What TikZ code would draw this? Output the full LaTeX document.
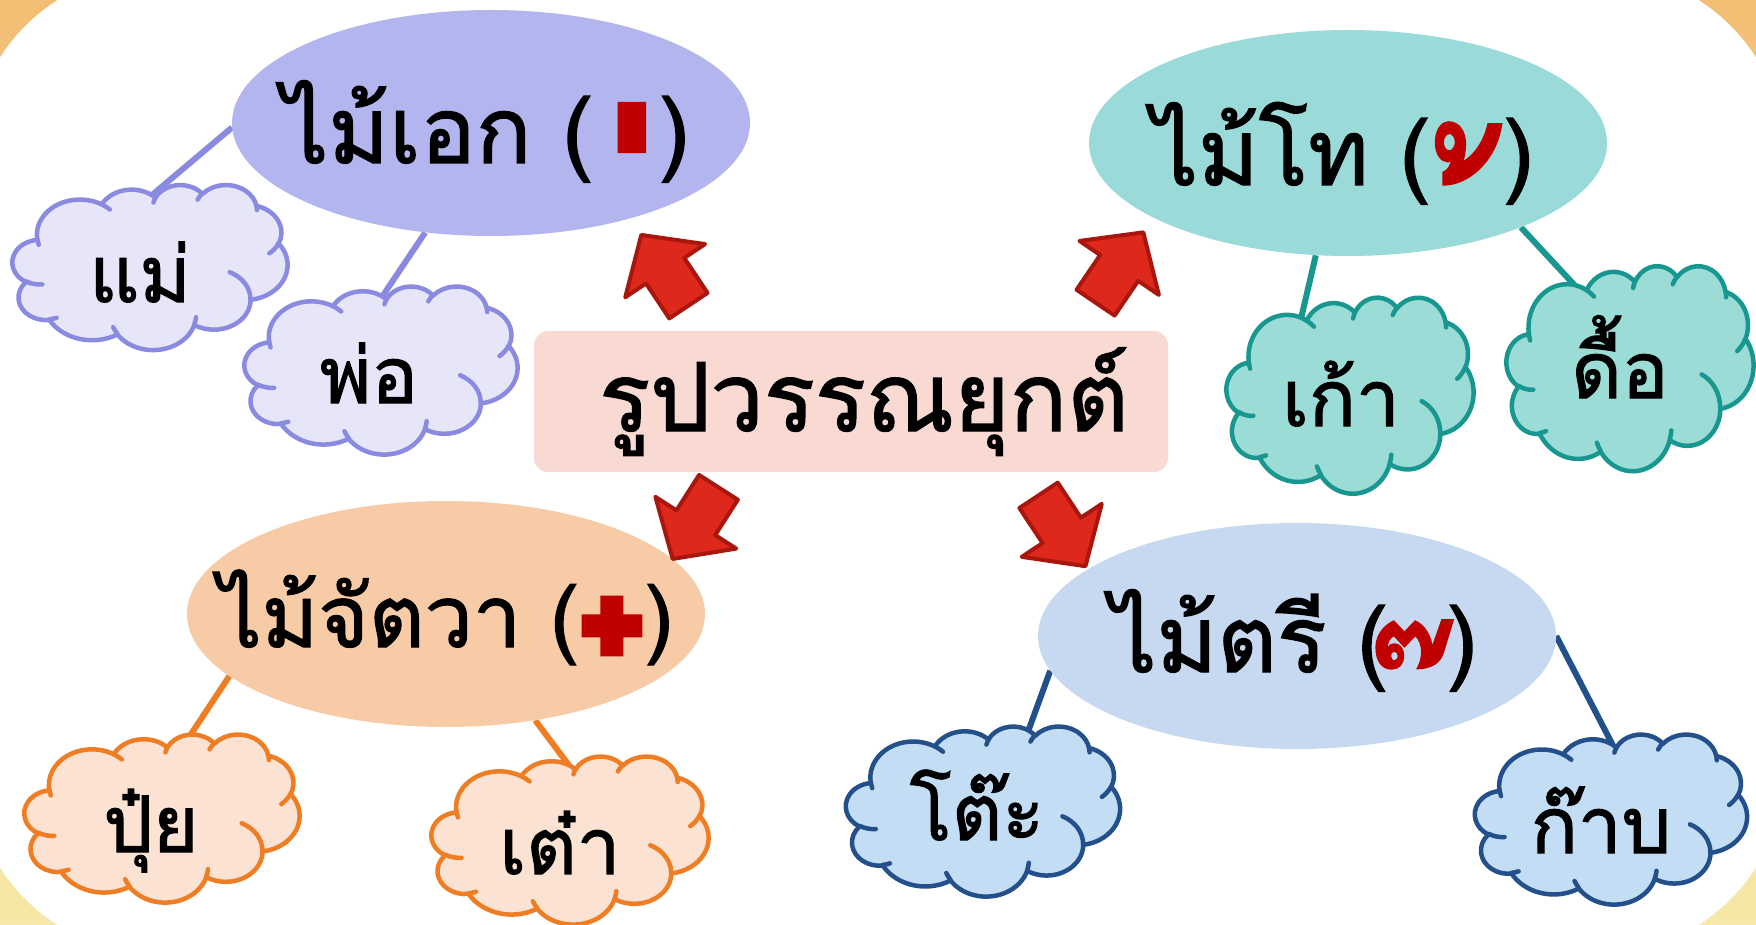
\documentclass[tikz,border=0pt]{standalone}
\usepackage{graphicx}
\usepackage{fontspec}
\newfontfamily\thaifont[Script=Thai,FakeBold=1.5]{Loma}
\usetikzlibrary{shapes.geometric}
\pgfdeclarelayer{background}
\pgfdeclarelayer{lines}
\pgfsetlayers{background,lines,main}

\definecolor{bgtop}{HTML}{F2BE74}
\definecolor{bgbot}{HTML}{F6E8A6}
\definecolor{purpleFill}{HTML}{B3B6EE}
\definecolor{purpleLine}{HTML}{8A8BE0}
\definecolor{purpleCloud}{HTML}{E6E6F8}
\definecolor{tealFill}{HTML}{9ADBD9}
\definecolor{tealLine}{HTML}{17978F}
\definecolor{tealCloud}{HTML}{9BDCD6}
\definecolor{orangeFill}{HTML}{F7CBA6}
\definecolor{orangeLine}{HTML}{EE7D23}
\definecolor{orangeCloud}{HTML}{FBE2D3}
\definecolor{blueFill}{HTML}{C6D9F0}
\definecolor{blueLine}{HTML}{23508A}
\definecolor{blueCloud}{HTML}{C3DEF4}
\definecolor{centerFill}{HTML}{F9DAD3}
\definecolor{arrowFill}{HTML}{DF281C}
\definecolor{arrowLine}{HTML}{A8160E}
\definecolor{markred}{HTML}{C00000}

% DrawingML cloud arcs (visual angles -> parametric angles)
\newcommand\prepArc[5]{%
  \pgfmathsetmacro\tmpS{atan2(#2*sin(#4),#3*cos(#4))}%
  \pgfmathsetmacro\tmpE{atan2(#2*sin(#4+#5),#3*cos(#4+#5))}%
  \pgfmathsetmacro\tmpD{mod(\tmpE-\tmpS+720,360)}%
  \pgfmathsetmacro\tmpE{\tmpS+\tmpD}%
  \expandafter\xdef\csname cS#1\endcsname{\tmpS}%
  \expandafter\xdef\csname cE#1\endcsname{\tmpE}%
  \expandafter\xdef\csname cX#1\endcsname{#2}%
  \expandafter\xdef\csname cY#1\endcsname{#3}%
}
\prepArc{1}{67.53}{91.90}{-190.487483}{123.780533}
\prepArc{2}{53.33}{72.67}{-144.102383}{89.945233}
\prepArc{3}{43.65}{59.45}{-145.807917}{99.723017}
\prepArc{4}{48.57}{65.95}{-130.986067}{117.241733}
\prepArc{5}{53.33}{72.73}{-78.708883}{109.026917}
\prepArc{6}{67.75}{92.20}{-46.26725}{130.269}
\prepArc{7}{57.85}{78.67}{0.625017}{114.033333}
\prepArc{8}{67.52}{92.15}{22.4516}{115.17255}
\prepArc{9}{77.20}{105.43}{66.242633}{75.711017}
\prepArc{10}{43.60}{59.18}{-274.942083}{146.735567}
\prepArc{11}{43.45}{59.45}{-246.8285}{152.51885}
\prepArc{a}{43.45}{59.45}{86.742}{26.4295}
\prepArc{b}{43.60}{59.18}{73.61047}{11.44747}
\prepArc{c}{67.52}{92.15}{137.62415}{14.0811}
\prepArc{d}{67.52}{92.15}{6.45327}{15.99835}
\prepArc{e}{57.85}{78.67}{-70.29235}{70.91737}
\prepArc{f}{53.33}{72.73}{30.31803}{27.7515}
\prepArc{g}{48.57}{65.95}{-13.74433}{14.8589}
\prepArc{h}{48.57}{65.95}{-149.18145}{18.19537}
\prepArc{i}{43.65}{59.45}{-163.49427}{17.68635}
\prepArc{j}{67.53}{91.90}{-66.70695}{12.31935}
\prepArc{k}{67.53}{91.90}{157.65435}{11.85817}
\newcommand\ca[1]{arc[start angle=\csname cS#1\endcsname, end angle=\csname cE#1\endcsname, x radius=\csname cX#1\endcsname, y radius=\csname cY#1\endcsname]}

\tikzset{
  bubble/.style={ellipse, minimum width=518pt, minimum height=226pt, inner sep=0pt},
  cloudline/.style={line width=4.5pt, line join=round},
  anchorbox/.style={ellipse, inner sep=0pt},
  conn/.style={line width=6pt},
  titletext/.style={anchor=base, inner sep=0pt, font=\thaifont\fontsize{95}{95}\selectfont},
  lbl/.style={anchor=base, inner sep=0pt, font=\thaifont\fontsize{#1}{#1}\selectfont},
  lbl/.default=92,
  ctxt/.style={anchor=base, inner sep=0pt, font=\thaifont\fontsize{78}{78}\selectfont},
  tone/.style={anchor=base, inner sep=0pt, text=markred, font=\thaifont\fontsize{#1}{#1}\selectfont},
  arrowstyle/.style={fill=arrowFill, draw=arrowLine, line width=4pt, line join=round},
}

% #1 name, #2 cx, #3 cy, #4 w, #5 h, #6 fill, #7 draw
\newcommand\cloud[7]{%
  \begin{scope}[shift={(#2-#4/2,#3-#5/2)},xscale=#4/432,yscale=#5/432]
    \path[fill=#6,draw=#7,cloudline] (39.00,143.70) \ca{1}\ca{2}\ca{3}\ca{4}\ca{5}\ca{6}\ca{7}\ca{8}\ca{9}\ca{10}\ca{11} -- cycle;
    \path[draw=#7,cloudline,line cap=round]
      (46.93,261.77) \ca{a} (69.28,348.99) \ca{b} (164.78,390.90) \ca{c}
      (288.27,347.51) \ca{d} (341.29,229.54) \ca{e} (417.98,153.54) \ca{f}
      (383.24,54.26) \ca{g} (290.78,39.52) \ca{h} (221.41,47.20) \ca{i}
      (140.00,51.92) \ca{j} (41.27,157.89) \ca{k};
  \end{scope}
  \node[anchorbox, minimum width=0.85*#4, minimum height=0.85*#5] (#1) at (#2,#3) {};
}

% #1 x, #2 y (tail middle), #3 angle
\newcommand\blockarrow[3]{%
  \begin{scope}[shift={(#1,#2)},rotate=#3]
    \path[arrowstyle] (1,23) -- (43,23) -- (43,48) -- (86,0) -- (43,-48) -- (43,-23) -- (1,-23) -- cycle;
  \end{scope}
}

\begin{document}
\begin{tikzpicture}[x=1pt,y=-1pt]
\useasboundingbox (0,0) rectangle (1756,925);
\begin{pgfonlayer}{background}
  \fill[top color=bgtop,bottom color=bgbot] (0,0) rectangle (1756,925);
  \fill[white,rounded corners=190pt] (-30,-30) rectangle (1786,955);
\end{pgfonlayer}

% ellipses
\node[bubble, fill=purpleFill] (e1) at (491,123) {};
\node[bubble, fill=tealFill] (e2) at (1348,143) {};
\node[bubble, fill=orangeFill] (e3) at (446,614) {};
\node[bubble, fill=blueFill] (e4) at (1297,636) {};

% centre box
\node[fill=centerFill, rounded corners=14pt, minimum width=634pt, minimum height=141pt, inner sep=0pt] (title) at (851,401.5) {};
\node[titletext] (tt) at (864,431) {รูปวรรณยุกต์};

% labels
\node[lbl] (t1) at (486,163) {ไม้เอก (\hspace*{66pt})};
\node[lbl] (t2) at (1343,185) {ไม้โท (\hspace*{73pt})};
\node[lbl=86] (t3) at (446,647) {ไม้จัตวา (\hspace*{66pt})};
\node[lbl] (t4) at (1294,672) {ไม้ตรี (\hspace*{59pt})};

% tone marks
\node[tone=338] (m1) at (675,452) {่};
\node[tone=265] (m2) at (1495,404) {\scalebox{0.67}[1]{้}};
\node[tone=272] (m3) at (662,876) {๋};
\node[tone=195] (m4) at (1443,827) {\scalebox{0.8}[1]{๊}};

% clouds
\cloud{c1}{150}{267}{275}{165}{purpleCloud}{purpleLine}
\cloud{c2}{381}{370}{273}{168}{purpleCloud}{purpleLine}
\cloud{c3}{1350}{395}{247}{196}{tealCloud}{tealLine}
\cloud{c4}{1630}{368}{247}{205}{tealCloud}{tealLine}
\cloud{c5}{162}{818}{275}{168}{orangeCloud}{orangeLine}
\cloud{c6}{570}{840}{277}{168}{orangeCloud}{orangeLine}
\cloud{c7}{983}{811}{274}{170}{blueCloud}{blueLine}
\cloud{c8}{1611}{819}{272}{170}{blueCloud}{blueLine}

\node[ctxt] (w1) at (140,302) {แม่};
\node[ctxt] (w2) at (369,403) {พ่อ};
\node[ctxt] (w3) at (1341,426) {เก้า};
\node[ctxt] (w4) at (1620,398) {ดื้อ};
\node[ctxt] (w5) at (151,852) {ปุ๋ย};
\node[ctxt] (w6) at (560,874) {เต๋า};
\node[ctxt] (w7) at (977,840) {โต๊ะ};
\node[ctxt] (w8) at (1601,853) {ก๊าบ};

% connectors
\begin{pgfonlayer}{lines}
  \draw[conn, purpleLine] (e1.181) -- (c1.90);
  \draw[conn, purpleLine] (e1.239) -- (c2.90);
  \draw[conn, tealLine] (e2.254) -- (c3.124);
  \draw[conn, tealLine] (e2.334) -- (c4.123);
  \draw[conn, orangeLine] (e3.196) -- (c5.74);
  \draw[conn, orangeLine] (e3.310) -- (c6.89);
  \draw[conn, blueLine] (e4.188) -- (c7.59);
  \draw[conn, blueLine] (e4.0) -- (c8.88);
\end{pgfonlayer}

% arrows
\blockarrow{689}{306.5}{123.7}
\blockarrow{1095}{303.5}{55.8}
\blockarrow{719}{486.5}{-122.6}
\blockarrow{1038}{494.5}{-56.5}
\end{tikzpicture}
\end{document}
